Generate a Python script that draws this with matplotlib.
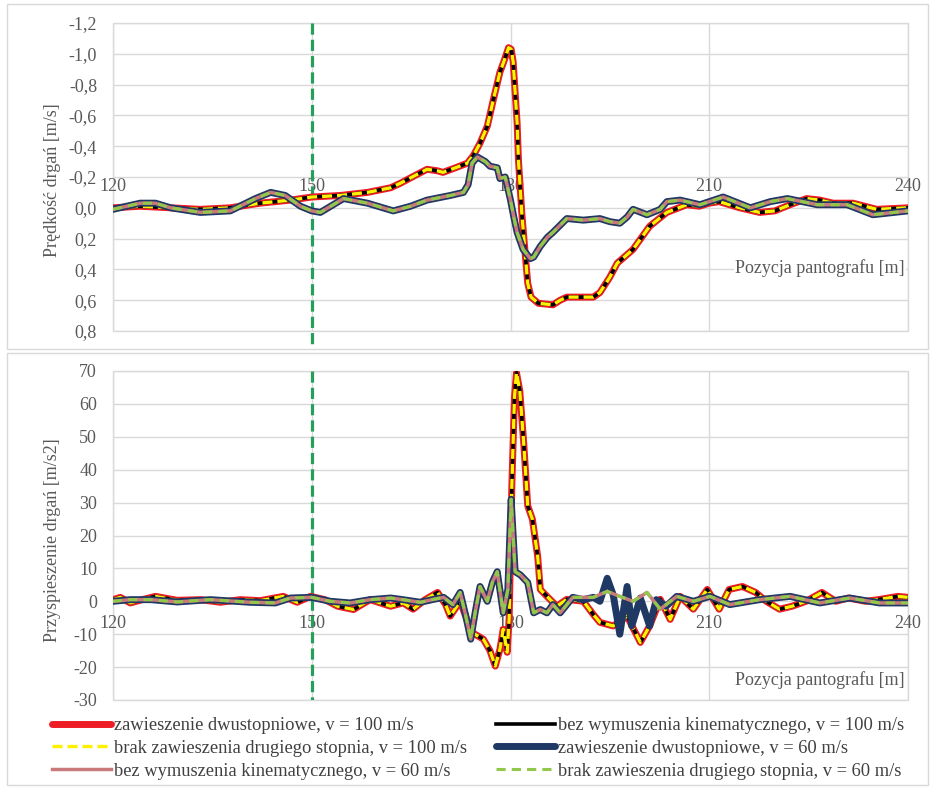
import matplotlib
matplotlib.use('Agg')
import matplotlib.pyplot as plt
from matplotlib.patches import Rectangle
from matplotlib.lines import Line2D

plt.rcParams['font.family'] = ['Liberation Serif', 'DejaVu Serif']

# ---------------- data ----------------
labels = [
    'zawieszenie dwustopniowe, v = 100 m/s',
    'bez wymuszenia kinematycznego, v = 100 m/s',
    'brak zawieszenia drugiego stopnia, v = 100 m/s',
    'zawieszenie dwustopniowe, v = 60 m/s',
    'bez wymuszenia kinematycznego, v = 60 m/s',
    'brak zawieszenia drugiego stopnia, v = 60 m/s',
]

x_ticks = [120, 150, 180, 210, 240]
vel_ticks = [-1.2, -1.0, -0.8, -0.6, -0.4, -0.2, 0.0, 0.2, 0.4, 0.6, 0.8]
vel_tick_labels = ['-1,2', '-1,0', '-0,8', '-0,6', '-0,4', '-0,2', '0,0', '0,2', '0,4', '0,6', '0,8']
acc_ticks = [-30, -20, -10, 0, 10, 20, 30, 40, 50, 60, 70]
marker_pos = 150

# top panel: velocity, v = 100 m/s group
top_x_100 = [120, 124.1, 128.7, 133.2, 137.7, 142.2, 146.8, 150, 154.3, 158.4, 161.9, 163.4, 165.6, 167.4,
             169, 169.8, 171.7, 173.5, 174.4, 175.4, 176.5, 177.4, 178.4, 179.0, 179.7, 180.1, 180.4, 180.7,
             181.0, 181.2, 181.7, 182.2, 182.6, 183.1, 184.2, 186.4, 187.5, 188.5, 190.5, 192.5, 193.5, 195,
             196.1, 198.5, 200, 201, 203.6, 206.6, 208.5, 210, 211.5, 214.6, 217.6, 219.9, 222.2, 224.7,
             226.7, 228.7, 231.7, 235.3, 240]
top_v_100 = [0.0, -0.01, 0.0, 0.01, 0.0, -0.03, -0.05, -0.07, -0.08, -0.1, -0.13, -0.16, -0.21, -0.25,
             -0.24, -0.23, -0.26, -0.29, -0.34, -0.42, -0.53, -0.7, -0.88, -0.95, -1.04, -1.03, -0.95, -0.75,
             -0.55, -0.31, 0.03, 0.29, 0.49, 0.58, 0.62, 0.63, 0.6, 0.58, 0.58, 0.58, 0.55, 0.45,
             0.36, 0.27, 0.18, 0.12, 0.03, -0.02, -0.01, -0.03, -0.04, 0.0, 0.03, 0.02, -0.02, -0.06,
             -0.05, -0.03, -0.03, 0.01, 0.0]

# top panel: velocity, v = 60 m/s group
top_x_60 = [120, 124.1, 126.4, 128.7, 133.2, 137.7, 141.5, 143.8, 146, 148.3, 150, 151.3, 154.8, 158.4,
            162.3, 164.9, 167.4, 170.9, 172.9, 173.6, 174.2, 175, 176.2, 176.9, 178, 178.4, 179.2, 180,
            180.5, 181, 181.9, 183, 183.5, 184.5, 185.6, 186.4, 188.5, 191, 193.5, 195, 196.5, 197.6,
            198.5, 200.6, 202.6, 203.6, 205.6, 208.6, 212.1, 216.2, 219.2, 221.8, 226.3, 230.8, 234.7, 240]
top_v_60 = [0.01, -0.03, -0.03, 0.0, 0.03, 0.02, -0.06, -0.1, -0.08, -0.01, 0.02, 0.03, -0.06, -0.03,
            0.02, -0.01, -0.05, -0.08, -0.1, -0.15, -0.29, -0.33, -0.3, -0.27, -0.26, -0.19, -0.2, -0.05,
            0.06, 0.16, 0.27, 0.33, 0.32, 0.25, 0.19, 0.16, 0.07, 0.08, 0.07, 0.09, 0.1, 0.06,
            0.01, 0.045, 0.01, -0.04, -0.05, -0.02, -0.07, 0.0, -0.04, -0.06, -0.02, -0.02, 0.045, 0.02]

# bottom panel: acceleration, v = 100 m/s group
bot_x_100 = [120, 121.1, 122.6, 124.6, 126.4, 129.7, 133.2, 136.2, 139.2, 142.2, 145.7, 147.8, 149.8,
             152.0, 153.9, 156.3, 158.8, 161.9, 163.8, 165.3, 167.1, 169.0, 170.2, 170.9, 172.4, 173.5,
             174.2, 175.9, 176.9, 177.7, 178.4, 178.9, 179.5, 179.8, 180.2, 180.6, 180.9, 181.4, 182.0,
             182.6, 183.3, 184.1, 184.5, 185.5, 187, 188.5, 191, 192.5, 193.5, 195.5, 197.6, 199.6, 201,
             202.6, 204.1, 205.6, 207.6, 209.7, 211.5, 213, 215, 217, 218.6, 220.6, 222.5, 224.6, 227,
             229.1, 231, 233.6, 235.5, 238.5, 240]
bot_a_100 = [0.5, 1.2, -0.5, 0.6, 1.5, 0.3, 0.5, -0.3, 0.5, 0.2, 1.5, -0.3, 1.5,
             0.5, -1.5, -2.5, 0.5, -1.5, -0.5, -2.4, 0.5, 2.7, -1, -4.5, 0, -6,
             -9.5, -11.5, -15, -19.7, -14.6, -8.5, -15.5, -5, 35, 62, 69.5, 64, 48,
             29, 25, 13.7, 3.6, 1.5, -1.5, 0.6, 0, -4, -6.4, -7.5, -4.5, -12.5, -7.5,
             0.6, -5.5, 1.5, -2.4, 3.6, -2.4, 3.6, 4.5, 2.7, 0, -2.4, -1.5, 0, 2.7,
             0, 1, 0, 0.5, 1.5, 1.2]

# bottom panel: acceleration, v = 60 m/s (pink / green)
bot_x_60 = [120, 122.6, 125.7, 129.7, 134.7, 140.7, 144.5, 146.8, 150, 152.8, 155.8, 158.8, 161.9,
            163.4, 166.4, 168.4, 169.9, 171.3, 172.4, 173.2, 174, 174.7, 175.4, 176.5, 177.3, 178,
            178.9, 179.6, 180.1, 180.7, 181.5, 182.6, 183.5, 184.5, 185.5, 186.4, 187.5, 189.4, 192.5,
            194.6, 196.5, 198.5, 200.6, 202.6, 205.1, 207.6, 210.1, 213.1, 217.6, 222.2, 226.7, 231.2,
            235.7, 240]
bot_a_60 = [0, 0.5, 0.5, -0.2, 0.5, -0.3, -0.5, 1, 1.2, 0, -0.5, 0.5, 1,
            0.6, -0.3, 0.6, 1.2, -1, 2.7, -4, -11.5, -3, 4.5, 0, 6, 9,
            -3.5, 3.6, 31, 9, 8, 5.7, -3.5, -2.5, -3.5, -1, -3.5, 1.2, 1.2,
            3, 1.5, 0, 2.7, -2.4, 1.5, 0, 1.5, -1, 0.5, 1.5, -0.5, 1,
            -0.5, -0.5]

# bottom panel: acceleration, v = 60 m/s two-stage suspension (navy)
bot_x_60_navy = [120, 122.6, 125.7, 129.7, 134.7, 140.7, 144.5, 146.8, 150, 152.8, 155.8, 158.8, 161.9,
                 163.4, 166.4, 168.4, 169.9, 171.3, 172.4, 173.2, 174, 174.7, 175.4, 176.5, 177.3, 178,
                 178.9, 179.6, 180.1, 180.7, 181.5, 182.6, 183.5, 184.5, 185.5, 186.4, 187.5, 189.4, 191,
                 192.5, 193.5, 194.6, 195.5, 196.5, 197.6, 198.3, 199.6, 201, 202, 203.5, 205.1, 207.6,
                 210.1, 213.1, 217.6, 222.2, 226.7, 231.2, 235.7, 240]
bot_a_60_navy = [0, 0.5, 0.5, -0.2, 0.5, -0.3, -0.5, 1, 1.2, 0, -0.5, 0.5, 1,
                 0.6, -0.3, 0.6, 1.2, -1, 2.7, -4, -11.5, -3, 4.5, 0, 6, 9,
                 -3.5, 3.6, 31, 9, 8, 5.7, -3.5, -2.5, -3.5, -1, -3.5, 1.2, 0.5,
                 1.2, 0, 7, 2, -10, 4.5, -7.5, 1, -7.5, 0.5, -1.5, 1.5, 0,
                 1.5, -1, 0.5, 1.5, -0.5, 1, -0.5, -0.5]

# ---------------- styles ----------------
styles = [
    dict(color='#ee1c25', lw=5.0, solid_capstyle='round', solid_joinstyle='round'),
    dict(color='#000000', lw=2.6, solid_joinstyle='round'),
    dict(color='#fff200', lw=2.4, dashes=(3.0, 1.5)),
    dict(color='#1f3864', lw=5.0, solid_capstyle='round', solid_joinstyle='round'),
    dict(color='#c9787c', lw=2.5, solid_joinstyle='round'),
    dict(color='#92c84a', lw=2.2, dashes=(3.0, 2.0)),
]

top_series = [(top_x_100, top_v_100), (top_x_100, top_v_100), (top_x_100, top_v_100),
              (top_x_60, top_v_60), (top_x_60, top_v_60), (top_x_60, top_v_60)]
bot_series = [(bot_x_100, bot_a_100), (bot_x_100, bot_a_100), (bot_x_100, bot_a_100),
              (bot_x_60_navy, bot_a_60_navy), (bot_x_60, bot_a_60), (bot_x_60, bot_a_60)]

W, H = 931, 787
fig = plt.figure(figsize=(W / 100, H / 100), dpi=100)
fig.patch.set_facecolor('white')


def fx(px):
    return px / W


def fy(py):
    return 1 - py / H


for (x0, y0, x1, y1) in [(7, 4, 928, 349), (7, 353, 928, 785)]:
    fig.patches.append(Rectangle((fx(x0), fy(y1)), fx(x1) - fx(x0), fy(y0) - fy(y1),
                                 transform=fig.transFigure, fill=False, ec='#d9d9d9', lw=1))

ax1 = fig.add_axes([fx(113), fy(331), fx(908) - fx(113), fy(23) - fy(331)])
ax2 = fig.add_axes([fx(113), fy(700), fx(908) - fx(113), fy(371) - fy(700)])

TXT = '#595959'
FS = 13

for ax in (ax1, ax2):
    ax.set_xlim(120, 240)
    ax.set_xticks(x_ticks)
    ax.set_xticklabels([str(t) for t in x_ticks])
    ax.grid(True, color='#d9d9d9', lw=1)
    for s in ax.spines.values():
        s.set_visible(False)
    ax.add_patch(Rectangle((0, 0), 1, 1, transform=ax.transAxes, fill=False,
                           ec='#d9d9d9', lw=1, clip_on=False, zorder=1))
    ax.tick_params(axis='both', length=0, labelsize=FS, labelcolor=TXT)
    ax.tick_params(axis='y', pad=11.5)

# top panel
ax1.set_ylim(0.8, -1.2)
ax1.set_yticks(vel_ticks)
ax1.set_yticklabels(vel_tick_labels)
ax1.xaxis.tick_top()
ax1.spines['top'].set_position(('data', 0))
ax1.tick_params(axis='x', pad=9)

# bottom panel
ax2.set_ylim(-30, 70)
ax2.set_yticks(acc_ticks)
ax2.set_yticklabels([str(t) for t in acc_ticks])
ax2.spines['bottom'].set_position(('data', 0))
ax2.tick_params(axis='x', pad=10)

# marker line at 150 m
ax1.plot([marker_pos, marker_pos], [-1.2, 0.91], color='#24a05a', lw=2.3, dashes=(3.5, 1.6),
         clip_on=False, zorder=2.5)
ax2.plot([marker_pos, marker_pos], [70, -30], color='#24a05a', lw=2.3, dashes=(3.5, 1.6), zorder=2.5)

handles = []
for i, st in enumerate(styles):
    x, y = top_series[i]
    ax1.plot(x, y, zorder=3 + i * 0.1, **st)
    x, y = bot_series[i]
    ax2.plot(x, y, zorder=3 + i * 0.1, **st)
    handles.append(Line2D([], [], **st))

ax1.text(0.996, 0.2045, 'Pozycja pantografu [m]', transform=ax1.transAxes, ha='right', va='center',
         fontsize=FS, color=TXT, zorder=6, bbox=dict(fc='white', ec='none', pad=1))
ax2.text(0.996, 0.061, 'Pozycja pantografu [m]', transform=ax2.transAxes, ha='right', va='center',
         fontsize=FS, color=TXT, zorder=6, bbox=dict(fc='white', ec='none', pad=1))

fig.text(fx(53), fy(180), 'Prędkość drgań [m/s]', rotation=90, ha='center', va='center',
         fontsize=FS, color=TXT)
fig.text(fx(53), fy(540), 'Przyspieszenie drgań [m/s2]', rotation=90, ha='center', va='center',
         fontsize=FS, color=TXT)

leg_kw = dict(loc='upper left', frameon=False, fontsize=13.3, handlelength=3.2, handletextpad=0.15,
              labelspacing=0.32, borderpad=0, borderaxespad=0, labelcolor='#404040')
leg1 = fig.legend([handles[0], handles[2], handles[4]], [labels[0], labels[2], labels[4]],
                  bbox_to_anchor=(fx(52), fy(717)), **leg_kw)
leg2 = fig.legend([handles[1], handles[3], handles[5]], [labels[1], labels[3], labels[5]],
                  bbox_to_anchor=(fx(496), fy(717)), **leg_kw)

fig.savefig('out.png', dpi=100, facecolor='white')
